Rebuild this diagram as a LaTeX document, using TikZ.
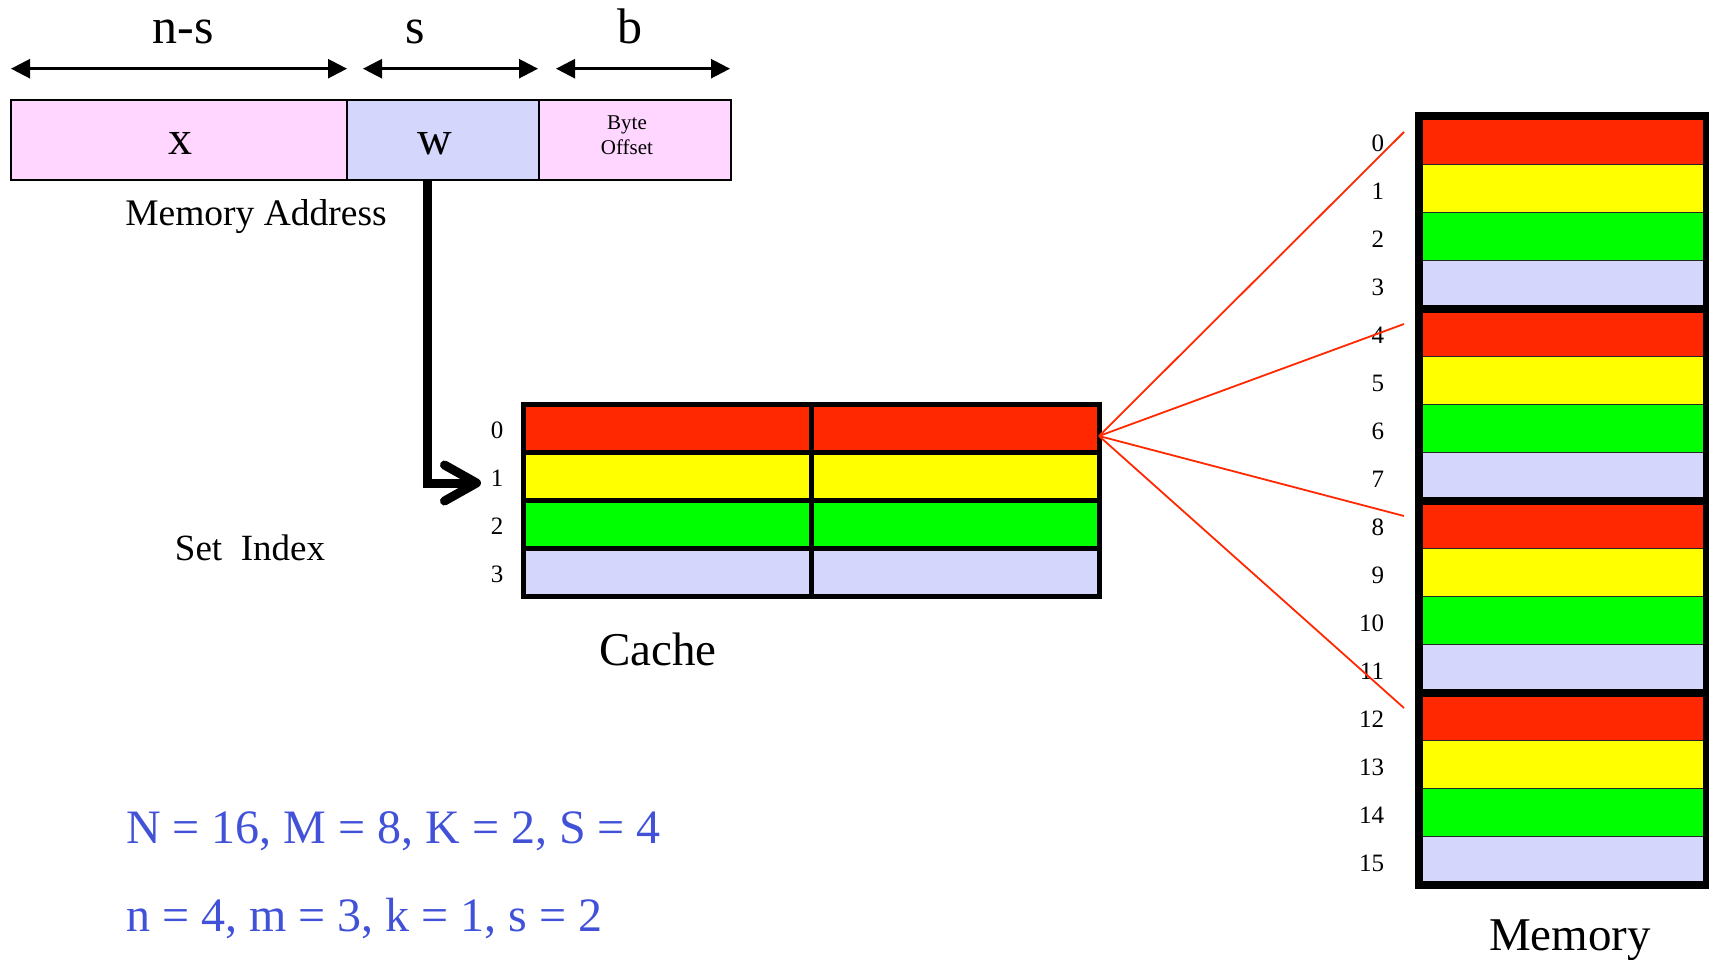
\documentclass[tikz,border=0pt]{standalone}
\usepackage{fontspec}
\setmainfont{Liberation Serif}
\usetikzlibrary{arrows.meta}

\definecolor{addrpink}{RGB}{255,214,255}
\definecolor{lavender}{RGB}{212,214,252}
\definecolor{blockred}{RGB}{255,40,0}
\definecolor{blockyellow}{RGB}{255,255,0}
\definecolor{blockgreen}{RGB}{0,255,0}
\definecolor{noteblue}{RGB}{66,82,216}
\definecolor{fanred}{RGB}{255,40,0}

\begin{document}
\begin{tikzpicture}[x=1pt,y=-1pt,
  every node/.style={inner sep=0pt, outer sep=0pt},
  field/.style={draw=black, line width=1.5pt, minimum height=80pt},
  span/.style={line width=2.5pt,
    {Triangle[length=19pt,width=19pt]}-{Triangle[length=19pt,width=19pt]}},
  ccell/.style={draw=black, line width=5pt, minimum width=288pt, minimum height=48pt},
  mcell/.style={draw=black!85, line width=1.5pt, minimum width=288pt, minimum height=48pt},
  mgroup/.style={draw=black, line width=8pt, minimum width=288pt, minimum height=192pt},
  idx/.style={font=\fontsize{25}{30}\selectfont},
  bigtxt/.style={font=\fontsize{48}{58}\selectfont},
  title/.style={font=\fontsize{47}{56}\selectfont, anchor=base},
  note/.style={font=\fontsize{48}{58}\selectfont, text=noteblue, anchor=base west},
  fan/.style={draw=fanred, line width=1.8pt},
]
\useasboundingbox (0,0) rectangle (1709,960);

% ---- address fields ----
\node[field, fill=addrpink, minimum width=336pt] (fx) at (179,140) {};
\node[field, fill=lavender, minimum width=192pt] (fw) at (443,140) {};
\node[field, fill=addrpink, minimum width=192pt] (fb) at (635,140) {};
\node[bigtxt, anchor=base] (lx) at (180,155) {x};
\node[bigtxt, anchor=base] (lw) at (435,155) {w};
\node[font=\fontsize{21}{25}\selectfont, align=center] (lb) at (627,135) {Byte\\Offset};
\node[font=\fontsize{37.5}{45}\selectfont, anchor=base] (maddr) at (256,226) {Memory Address};

% ---- field widths ----
\coordinate (a1l) at (11,68.7);  \coordinate (a1r) at (347,68.7);
\coordinate (a2l) at (363,68.7); \coordinate (a2r) at (538,68.7);
\coordinate (a3l) at (556,68.7); \coordinate (a3r) at (730,68.7);
\draw[span] (a1l) -- (a1r);
\draw[span] (a2l) -- (a2r);
\draw[span] (a3l) -- (a3r);
\node[font=\fontsize{50}{60}\selectfont, anchor=base] (tns) at (183,44) {n-s};
\node[font=\fontsize{50}{60}\selectfont, anchor=base] (ts) at (415,44) {s};
\node[font=\fontsize{50}{60}\selectfont, anchor=base] (tb) at (630,44) {b};

% ---- cache ----
\foreach \r/\c in {0/blockred,1/blockyellow,2/blockgreen,3/lavender}{
  \node[ccell, fill=\c] (c\r a) at (667,{428+48*\r}) {};
  \node[ccell, fill=\c] (c\r b) at (955,{428+48*\r}) {};
  \node[idx] (cl\r) at (497,{430.5+48*\r}) {\r};
}
\node[title] (cachetitle) at (658,665) {Cache};
\node[font=\fontsize{37}{44}\selectfont, anchor=base] (setidx) at (250,560) {Set\ \ Index};

% ---- set index pointer ----
\coordinate (tap) at (427.5,180);
\coordinate (hit) at (481,483);
\draw[line width=9pt, -{Straight Barb[length=32pt,width=36pt,round]}] (tap) |- (hit);

% ---- memory ----
\foreach \g in {0,...,3}{
  \foreach \r/\c in {0/blockred,1/blockyellow,2/blockgreen,3/lavender}{
    \pgfmathtruncatemacro\i{4*\g+\r}
    \node[mcell, fill=\c] (m\i) at (1563,{140.5+48*\i}) {};
    \node[idx, anchor=east] (ml\i) at (1384,{143+48*\i}) {\i};
  }
}
\foreach \g in {0,...,3}{
  \node[mgroup] (mg\g) at (1563,{212.5+192*\g}) {};
}
\node[title] (memtitle) at (1570,950) {Memory};

% ---- set 0 maps onto every fourth block ----
\coordinate (fanout) at (1099,436);
\foreach \g in {0,...,3}{
  \coordinate (fe\g) at (1404,{132+192*\g});
  \draw[fan] (fanout) -- (fe\g);
}

% ---- parameters ----
\node[note] (p1) at (126,843) {N = 16, M = 8, K = 2, S = 4};
\node[note] (p2) at (126,931) {n = 4, m = 3, k = 1, s = 2};
\end{tikzpicture}
\end{document}
